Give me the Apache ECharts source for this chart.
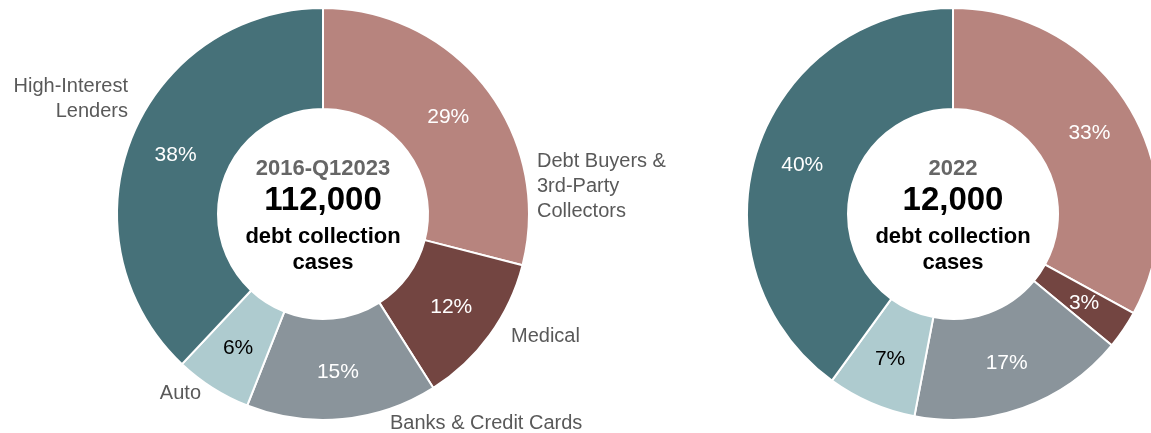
<!DOCTYPE html>
<html>
<head>
<meta charset="utf-8">
<script src="https://cdn.jsdelivr.net/npm/echarts@6/dist/echarts.min.js"></script>
<style>
  html, body { margin: 0; padding: 0; background: #fff; }
  #main { width: 1151px; height: 433px; }
</style>
</head>
<body>
<div id="main"></div>
<script>
// categories, clockwise from 12 o'clock
const categories = ['Debt Buyers & 3rd-Party Collectors', 'Medical', 'Banks & Credit Cards', 'Auto', 'High-Interest Lenders'];
const shareAll = [29, 12, 15, 6, 38];   // 2016-Q1 2023
const share2022 = [33, 3, 17, 7, 40];   // 2022
const colors = ['#b7847e', '#734541', '#8a949b', '#aecbcf', '#467179'];
const labelColors = ['#fff', '#fff', '#fff', '#000', '#fff'];

const centerAll = ['2016-Q12023', '112,000', 'debt collection', 'cases'];
const center2022 = ['2022', '12,000', 'debt collection', 'cases'];

// outside labels for the left donut (text, anchor)
const outLabels = [
  { text: 'Debt Buyers &\n3rd-Party\nCollectors', x: 537, y: 149, align: 'left' },
  { text: 'Medical', x: 511, y: 324, align: 'left' },
  { text: 'Banks & Credit Cards', x: 390, y: 411, align: 'left' },
  { text: 'Auto', x: 201, y: 381, align: 'right' },
  { text: 'High-Interest\nLenders', x: 128, y: 74, align: 'right' }
];

const font = "'Liberation Sans', Arial, sans-serif";
const chart = echarts.init(document.getElementById('main'));

function donut(cx, values) {
  return {
    type: 'pie',
    center: [cx, 214],
    radius: [105, 206],
    startAngle: 90,
    clockwise: true,
    avoidLabelOverlap: false,
    silent: true,
    itemStyle: { borderColor: '#fff', borderWidth: 2 },
    label: {
      position: 'inside',
      formatter: '{c}%',
      fontFamily: font,
      fontSize: 21
    },
    labelLine: { show: false },
    data: values.map((v, i) => ({
      name: categories[i],
      value: v,
      itemStyle: { color: colors[i] },
      label: { color: labelColors[i] }
    }))
  };
}

function centerText(cx, lines) {
  return [
    { type: 'text', x: cx, y: 169, style: { text: lines[0], fill: '#666', font: 'bold 22px ' + font, align: 'center', verticalAlign: 'middle' } },
    { type: 'text', x: cx, y: 201, style: { text: lines[1], fill: '#000', font: 'bold 33px ' + font, align: 'center', verticalAlign: 'middle' } },
    { type: 'text', x: cx, y: 237, style: { text: lines[2], fill: '#000', font: 'bold 22px ' + font, align: 'center', verticalAlign: 'middle' } },
    { type: 'text', x: cx, y: 263, style: { text: lines[3], fill: '#000', font: 'bold 22px ' + font, align: 'center', verticalAlign: 'middle' } }
  ];
}

const graphics = centerText(323, centerAll).concat(centerText(953, center2022));
outLabels.forEach(l => {
  graphics.push({
    type: 'text', x: l.x, y: l.y,
    style: { text: l.text, fill: '#595959', font: '20px ' + font, align: l.align, verticalAlign: 'top', lineHeight: 25 }
  });
});

chart.setOption({
  animation: false,
  series: [donut(323, shareAll), donut(953, share2022)],
  graphic: graphics
});
</script>
</body>
</html>
